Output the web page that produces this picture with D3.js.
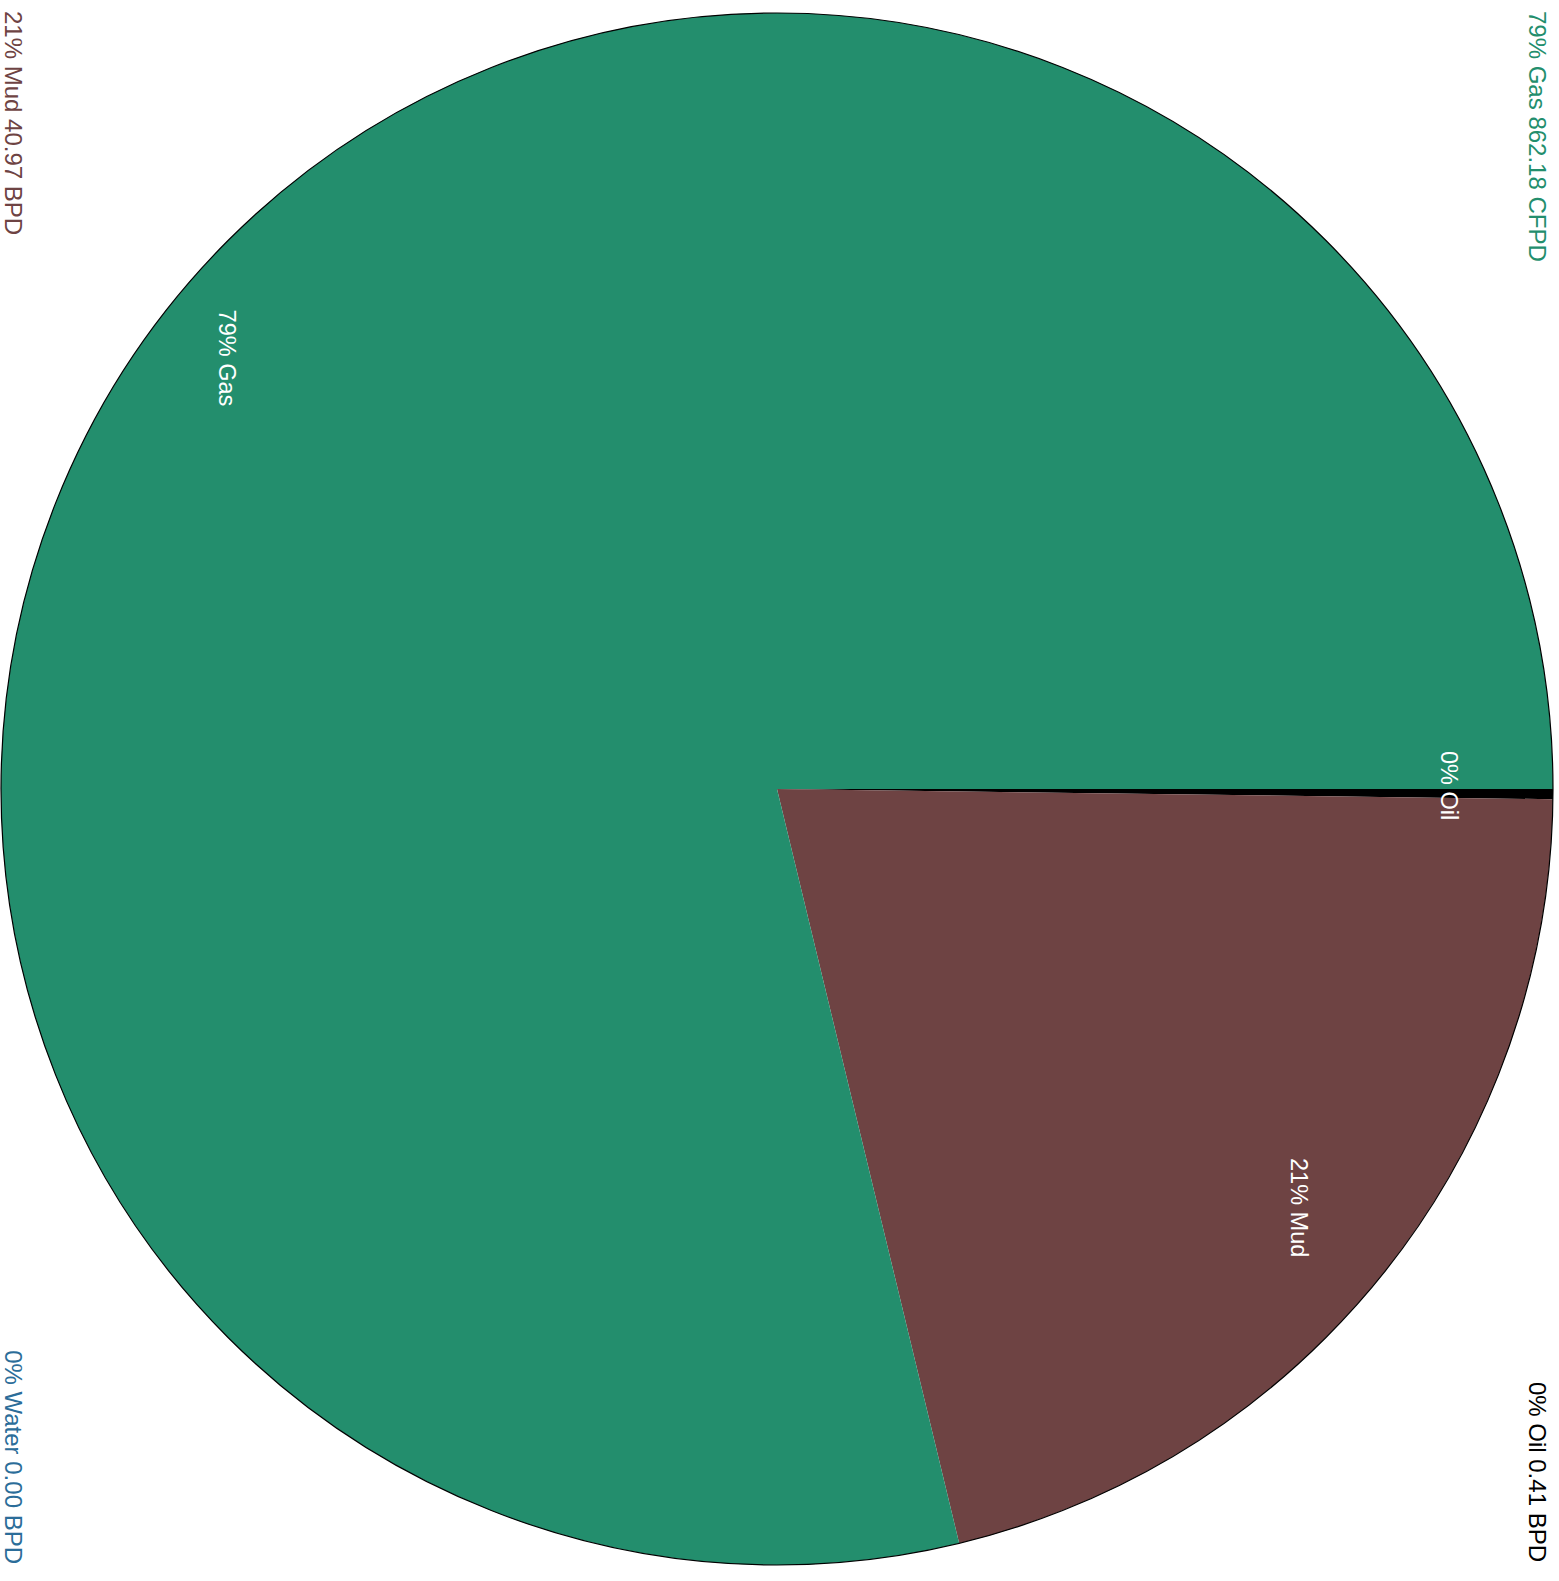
<!DOCTYPE html>
<html>
<head>
<meta charset="utf-8">
<script src="https://cdn.jsdelivr.net/npm/d3@7"></script>
<style>
  html, body { margin: 0; padding: 0; background: #fff; }
  svg { display: block; font-family: "Liberation Sans", Arial, sans-serif; }
</style>
</head>
<body>
<svg id="chart" width="1559" height="1581"></svg>
<script>
// ---- data ----
const categories   = ["Oil", "Mud", "Water", "Gas"];
const pieValues    = [0.41, 40.97, 0.00, 153.55];   // Gas expressed in BPD (862.18 CFPD)
const shownValues  = [0.41, 40.97, 0.00, 862.18];
const units        = ["BPD", "BPD", "BPD", "CFPD"];
const colors       = ["#000000", "#6e4343", "#2b6d99", "#238e6d"];

const W = 1559, H = 1581;
const svg = d3.select("#chart");

const total = d3.sum(pieValues);
const data = categories.map((c, i) => ({
  name: c, value: pieValues[i], shown: shownValues[i], unit: units[i], color: colors[i],
  pct: Math.round(pieValues[i] / total * 100)
}));

const pie = d3.pie().sort(null).value(d => d.value);
const arcs = pie(data);

const R = 776;
const arc = d3.arc().innerRadius(0).outerRadius(R);

const g = svg.append("g").attr("transform", "translate(777,789) rotate(90)");
g.selectAll("path.slice")
  .data(arcs)
  .join("path")
  .attr("class", "slice")
  .attr("d", arc)
  .attr("fill", d => d.data.color);
g.append("circle").attr("r", R).attr("fill", "none").attr("stroke", "#000").attr("stroke-width", 1.2);

// slice labels
const labelArc = d3.arc().innerRadius(684).outerRadius(684);
const lg = svg.append("g").attr("transform", "translate(765,781) rotate(90)");
lg.selectAll("text")
  .data(arcs.filter(d => d.data.value > 0))
  .join("text")
  .attr("transform", d => `translate(${labelArc.centroid(d)})`)
  .attr("text-anchor", "middle")
  .attr("dy", "0.35em")
  .attr("fill", "#fff")
  .attr("font-size", 23.5)
  .text(d => `${d.data.pct}% ${d.data.name}`);

// corner legend
const legendPos = {
  Gas:   { x: 1529, y: 11,   anchor: "start" },
  Mud:   { x: 5,    y: 11,   anchor: "start" },
  Water: { x: 5,    y: 1564, anchor: "end" },
  Oil:   { x: 1529, y: 1562, anchor: "end" }
};
svg.append("g").selectAll("text")
  .data(data)
  .join("text")
  .attr("transform", d => `translate(${legendPos[d.name].x},${legendPos[d.name].y}) rotate(90)`)
  .attr("text-anchor", d => legendPos[d.name].anchor)
  .attr("fill", d => d.color)
  .attr("font-size", 24)
  .text(d => `${d.pct}% ${d.name} ${d3.format(".2f")(d.shown)} ${d.unit}`);
</script>
</body>
</html>
